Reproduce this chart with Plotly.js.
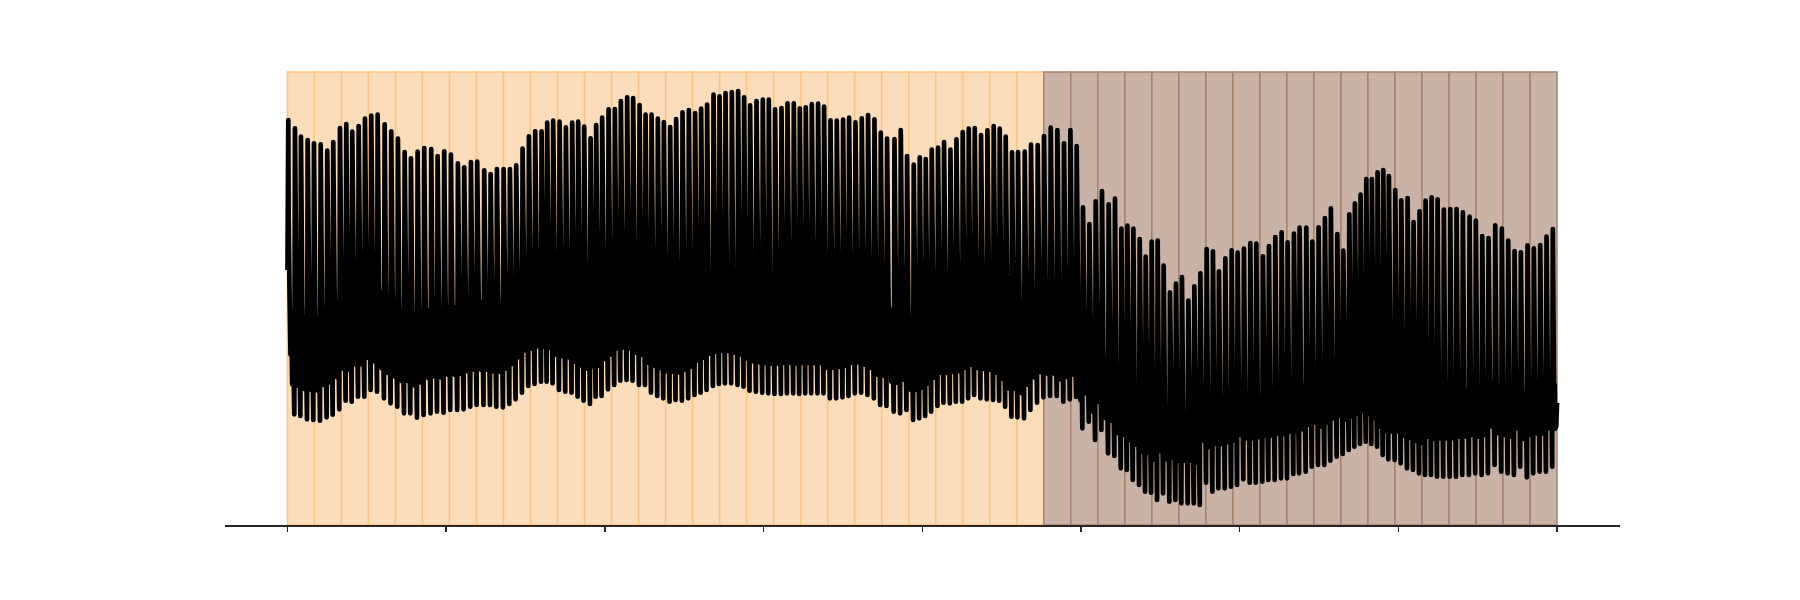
<!DOCTYPE html>
<html>
<head>
<meta charset="utf-8">
<script src="https://cdn.plot.ly/plotly-3.0.1.min.js"></script>
<style>
html,body{margin:0;padding:0;background:#ffffff;}
#chart path.js-line{stroke-linejoin:round !important;}
</style>
</head>
<body>
<div id="chart" style="width:1800px;height:600px;"></div>
<script>
// ---- data (time in arbitrary units, signal in arbitrary units) ----
const totalT = 1270;
const nSegments = 47;
const firstBrownSegment = 28;
const tickVals = [0, 158.75, 317.5, 476.25, 635, 793.75, 952.5, 1111.25, 1270];
const tickLabels = ['', '', '', '', '', '', '', '', ''];
const startValue = 255;
const endValue = 122;

// time of each beat (peak)
const beatTimes = [0.8,7.5,13.5,20.2,26.5,33.2,39.8,45.8,52.5,58.8,
64.8,71.2,77.5,83.8,90.2,97.2,103.8,110.5,117.2,123.5,
130.2,136.8,143.8,150.2,156.8,163.5,170.5,176.8,183.5,189.8,
196.8,203.2,209.5,216.2,222.5,228.8,235.2,241.5,247.8,254.2,
259.8,265.8,272.2,278.5,284.8,290.8,296.8,303.2,308.8,314.8,
321.2,327.5,333.5,339.8,345.8,352.2,358.2,364.2,370.5,376.5,
382.8,388.8,395.2,401.5,407.8,413.8,419.8,426.2,432.2,438.2,
444.5,450.8,456.8,462.8,469.2,475.5,481.5,487.8,494.2,500.2,
506.5,512.5,518.5,524.5,530.8,536.8,543.2,549.5,555.8,561.8,
568.2,574.5,580.8,587.2,593.5,599.8,607.2,613.5,619.8,626.5,
632.5,638.5,644.5,650.8,656.8,663.2,669.2,675.5,681.5,687.5,
693.8,700.2,706.5,712.5,718.5,724.8,730.8,737.5,743.8,750.5,
756.8,763.5,770.2,776.8,783.2,789.5,795.8,802.2,808.5,814.8,
821.5,827.8,834.2,840.2,846.2,852.5,858.5,864.5,870.5,876.5,
882.8,888.8,894.8,901.2,907.2,913.2,919.5,925.8,931.8,938.2,
944.5,950.5,956.8,963.2,969.2,975.8,981.8,988.2,994.5,1000.5,
1006.8,1012.5,1019.2,1025.2,1031.5,1037.8,1043.8,1050.2,1056.2,1062.2,
1067.8,1073.5,1079.2,1084.8,1090.5,1096.2,1101.8,1108.2,1114.2,1120.5,
1126.5,1132.5,1138.5,1144.5,1150.5,1156.8,1163.2,1169.5,1175.8,1182.5,
1188.8,1195.2,1201.5,1208.2,1214.8,1221.2,1227.5,1233.8,1240.5,1246.8,
1253.2,1259.5,1265.8];

// height of each peak
const peakValues = [405,396.7,388.3,385,381.7,380.7,374.3,383,397,401,
393.3,399,406.3,409.3,410.3,400.7,393.7,386.3,373,366.7,
373.3,377,376,369,373.7,370.3,361.7,357.7,363,363.3,
354.7,351,356,356,356,359.7,376.3,388.7,393.7,393.7,
402.3,404.3,403.3,397.7,402.3,403.3,398.3,386.7,400,407.3,
415.7,416,424,427.7,427,420,410.3,410.3,406.3,403,
398,406,412.7,415,412,416.3,420.3,430.3,428.7,432,
433,434,427.7,419.7,424,425.3,425.3,415.7,417,421.7,
421.7,416.7,417.7,421,421.3,418.3,404.7,404.3,405.3,407.3,
402.7,406.7,410,405.7,392.3,386.3,386,395,369,360.3,
367.7,366,375.3,377.3,383,375.3,385.7,393,396.3,397,
390,394.7,399,396.3,388.3,372.7,373,373.3,380.3,380,
389,397.3,395,381.7,395,379,317.7,301,323.7,334,
320.7,326.3,296.3,299.3,296.3,286,268.3,283.3,284.3,259.3,
232.7,241.3,248,224.3,238.7,251.7,276,273.7,253.7,266.7,
274.7,272.3,276.3,282,281.3,268.7,279,288,292.7,282.7,
291.3,297.3,297.3,283.3,297.7,307,316.7,291,274.3,310.7,
321.7,330.3,346,346,352.7,355,349,335,324.7,327,
303,313.7,324.3,327.7,325.7,315.3,316,316,312.7,308.3,
304.3,289,287,299.7,296.3,284.3,274,272.7,279.7,276.7,
280,288.3,296];

// depth of the trough that follows each beat
const troughValues = [110.7,109,105.7,105,104.3,107.7,110.3,115.7,124.3,123.3,
128.3,128.3,135,133.3,126.7,121.7,118.3,111.7,111.7,107.3,
110,111.7,113.3,112.3,115,115,115.7,118.3,120,120,
120,118.3,117.7,121,125.7,132.3,139,141,143.3,143.3,
141.7,135,133.3,132.3,128.3,124.3,121,128.3,129,135.7,
140,144.3,145,144.3,140,140,132.3,129,126.7,123.3,
125,124.3,126.7,130,132.3,135,139,141,141.7,141.7,
140,138.3,134.3,133.3,132.3,131.7,131,131,131.7,131.7,
131,131.7,131.7,131.7,131.7,126.7,126.7,127.7,129,131.7,
132.3,130,126.7,120,119,113.3,111.7,115,105,106.7,
109,113.3,119,122.3,121.7,123.3,123.3,126.7,130,126.7,
125.7,125,124.3,118.3,108.3,107.7,106.7,115,122.3,127.7,
129,129,123.3,125.7,128,96.7,103.3,85,95,71.7,
69,56.7,55,45,40,33.3,32.3,25,31.7,23.3,
25,21.7,21.7,21.7,20,42.3,33.3,36.7,36.7,38.3,
40,45.7,42.3,42.3,43.3,45,45,46.7,46.7,51,
51.7,53.3,58.3,60,60,64.3,68.3,71,75,78.3,
81,83.3,81,78.3,70,65.7,65,61.7,56.7,55,
51.7,50,50,48.3,48.3,48.3,48.3,50,50,51.7,
50,51.7,60,53.3,51.7,50,58.3,47.7,51.7,53.3,
53.3,58.3];

// per interval: height of the dense middle band above the trough (top / bottom)
const bandDepth = [115,120,125,120,115,115,115,115,120,125,
127,125,125,127,120,115,115,117,123,125,
125,123,115,113,117,120,120,123,125,115,
105,97,95,93,91,91,91,93,100,115,
120,110,95,91,90,90,90];
const fingerLength = [30,32,32,30,32,35,35,35,35,35,
35,30,32,30,28,32,32,30,30,30,
30,30,30,28,30,30,28,25,22,28,
35,40,42,42,44,44,44,42,38,30,
28,32,38,38,38,38,38];

// ---- build the trace from the data ----
const segLen = totalT / nSegments;
const xs = [0], ys = [startValue];
const nBeats = beatTimes.length;
// waveform of one beat: [phase within beat, level] ; level 0 = band bottom, 1 = band top, >1 towards the peak
const beatShape = [[0.06, 1.45], [0.20, 1.0], [0.33, 0.35], [0.45, 0.85], [0.58, 0.0], [0.70, 0.65], [0.82, 0.05]];
const troughPhase = 0.90;
for (let i = 0; i < nBeats; i++) {
  const t0 = beatTimes[i];
  const last = (i === nBeats - 1);
  const t1 = last ? totalT : beatTimes[i + 1];
  const p = t1 - t0;
  const s = Math.min(nSegments - 1, Math.floor(t0 / segLen));
  const tr = last ? troughValues[i - 1] : troughValues[i];
  const P = peakValues[i];
  const T = tr + bandDepth[s];
  const B = tr + fingerLength[s];
  xs.push(t0); ys.push(P);
  for (const [f, lv] of beatShape) {
    xs.push(t0 + f * p);
    ys.push(lv <= 1 ? B + lv * (T - B) : T + (lv - 1) * (P - T));
  }
  if (!last) { xs.push(t0 + troughPhase * p); ys.push(troughValues[i]); }
  else { xs.push(totalT); ys.push(endValue); }
}

const shapes = [];
for (let k = 0; k < nSegments; k++) {
  const brown = k >= firstBrownSegment;
  shapes.push({
    type: 'rect', xref: 'x', yref: 'paper',
    x0: k * segLen, x1: (k + 1) * segLen, y0: 0, y1: 1,
    fillcolor: brown ? '#C9B2A6' : '#FBDDBB',
    line: {color: brown ? '#A6836D' : '#FDC384', width: 1.5},
    layer: 'below'
  });
}

const trace = {
  type: 'scatter', mode: 'lines', x: xs, y: ys,
  line: {color: '#000000', width: 4.7},
  hoverinfo: 'skip', showlegend: false
};

const layout = {
  width: 1800, height: 600,
  margin: {l: 225, r: 180, t: 72, b: 75, pad: 0},
  paper_bgcolor: '#ffffff', plot_bgcolor: 'rgba(0,0,0,0)',
  showlegend: false,
  xaxis: {
    range: [-62.5 * totalT / 1270, totalT + 63 * totalT / 1270],
    showgrid: false, zeroline: false,
    showline: true, linecolor: '#262626', linewidth: 1.5,
    ticks: 'outside', ticklen: 5, tickwidth: 1.5, tickcolor: '#262626',
    tickmode: 'array', tickvals: tickVals, ticktext: tickLabels,
    showticklabels: false
  },
  yaxis: {
    range: [0, 453], visible: false, showgrid: false, zeroline: false
  },
  shapes: shapes
};

Plotly.newPlot('chart', [trace], layout, {staticPlot: true, displayModeBar: false});
</script>
</body>
</html>
